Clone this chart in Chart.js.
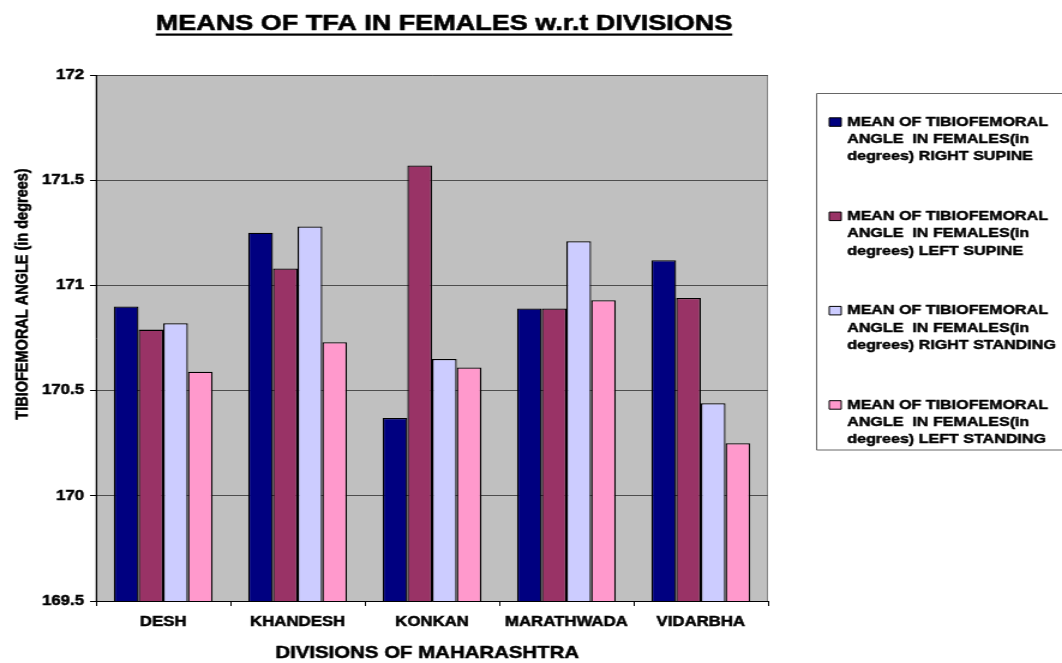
<!DOCTYPE html>
<html><head><meta charset="utf-8">
<script src="https://cdn.jsdelivr.net/npm/chart.js@4.4.1/dist/chart.umd.min.js"></script>
<style>
html,body{margin:0;padding:0;background:#fff;overflow:hidden;}
#wrap{width:885px;height:663px;transform:scale(1.2,1);transform-origin:0 0;}
canvas{display:block;}
</style></head><body>
<div id="wrap"><canvas id="c" width="885" height="663"></canvas></div>
<script>
const chartTitle = 'MEANS OF TFA IN FEMALES w.r.t DIVISIONS';
const xAxisTitle = 'DIVISIONS OF MAHARASHTRA';
const yAxisTitle = 'TIBIOFEMORAL ANGLE (in degrees)';
const divisions = ['DESH', 'KHANDESH', 'KONKAN', 'MARATHWADA', 'VIDARBHA'];
const rightSupine   = [170.90, 171.25, 170.37, 170.89, 171.12];
const leftSupine    = [170.79, 171.08, 171.57, 170.89, 170.94];
const rightStanding = [170.82, 171.28, 170.65, 171.21, 170.44];
const leftStanding  = [170.59, 170.73, 170.61, 170.93, 170.25];
const legendLines = [
  ['MEAN OF TIBIOFEMORAL', 'ANGLE  IN FEMALES(in', 'degrees) RIGHT SUPINE'],
  ['MEAN OF TIBIOFEMORAL', 'ANGLE  IN FEMALES(in', 'degrees) LEFT SUPINE'],
  ['MEAN OF TIBIOFEMORAL', 'ANGLE  IN FEMALES(in', 'degrees) RIGHT STANDING'],
  ['MEAN OF TIBIOFEMORAL', 'ANGLE  IN FEMALES(in', 'degrees) LEFT STANDING']
];
const seriesColors = ['#000080', '#993366', '#CCCCFF', '#FF99CC'];
const yMin = 169.5, yMax = 172, yStep = 0.5;

const FONT = '"Liberation Sans", Arial, Helvetica, sans-serif';

function heavyText(ctx, text, x, y, sw) {
  ctx.lineWidth = sw;
  ctx.strokeStyle = '#000';
  ctx.lineJoin = 'round';
  ctx.strokeText(text, x, y);
  ctx.fillText(text, x, y);
}

const bgPlugin = {
  id: 'bg',
  beforeDraw(chart) {
    const {ctx, chartArea: a} = chart;
    ctx.save();
    ctx.fillStyle = '#C0C0C0';
    ctx.fillRect(a.left, a.top, a.right - a.left, a.bottom - a.top);
    ctx.strokeStyle = '#808080';
    ctx.lineWidth = 1;
    ctx.strokeRect(a.left, a.top + 0.5, a.right - a.left - 0.5, a.bottom - a.top);
    ctx.restore();
  }
};

const textPlugin = {
  id: 'texts',
  afterDraw(chart) {
    const ctx = chart.ctx;
    const a = chart.chartArea;
    ctx.save();
    ctx.fillStyle = '#000';
    // main title with underline
    ctx.font = `bold 22.5px ${FONT}`;
    ctx.textAlign = 'center';
    ctx.textBaseline = 'alphabetic';
    const tx = 370, ty = 29.5;
    heavyText(ctx, chartTitle, tx, ty, 0.6);
    const w = ctx.measureText(chartTitle).width;
    ctx.fillRect(tx - w / 2, 33.5, w, 2.2);
    // x axis title
    ctx.font = `bold 17px ${FONT}`;
    ctx.textBaseline = 'middle';
    heavyText(ctx, xAxisTitle, (a.left + a.right) / 2 - 4, 653, 0.5);
    // y axis title
    ctx.save();
    ctx.translate(19, 294);
    ctx.rotate(-Math.PI / 2);
    ctx.font = `bold 14.5px ${FONT}`;
    ctx.textBaseline = 'middle';
    heavyText(ctx, yAxisTitle, 0, 0, 0.5);
    ctx.restore();
    // legend
    ctx.strokeStyle = '#666';
    ctx.lineWidth = 1;
    ctx.strokeRect(680.5, 93.5, 320, 356.5);
    ctx.font = `bold 13.4px ${FONT}`;
    ctx.textAlign = 'left';
    ctx.textBaseline = 'middle';
    chart.data.datasets.forEach((ds, i) => {
      const y0 = 122 + i * 94.3;
      ctx.fillStyle = ds.backgroundColor;
      ctx.fillRect(691, y0 - 4.2, 10, 8.5);
      ctx.strokeStyle = '#000';
      ctx.lineWidth = 1;
      ctx.strokeRect(691, y0 - 4.2, 10, 8.5);
      ctx.fillStyle = '#000';
      legendLines[i].forEach((line, j) => {
        heavyText(ctx, line, 706, y0 + j * 17.3, 0.45);
      });
    });
    ctx.restore();
  }
};

const seriesData = [rightSupine, leftSupine, rightStanding, leftStanding];

new Chart(document.getElementById('c'), {
  type: 'bar',
  data: {
    labels: divisions,
    datasets: seriesData.map((d, i) => ({
      label: legendLines[i].join(' '),
      data: d,
      backgroundColor: seriesColors[i],
      borderColor: '#000',
      borderWidth: 1.3,
      borderSkipped: 'start',
      categoryPercentage: 0.735,
      barPercentage: 1.0
    }))
  },
  options: {
    responsive: false,
    animation: false,
    devicePixelRatio: 1,
    layout: {padding: {top: 75, right: 245, left: 0, bottom: 0}},
    plugins: {
      legend: {display: false},
      title: {display: false},
      tooltip: {enabled: false}
    },
    scales: {
      x: {
        offset: true,
        grid: {display: true, drawOnChartArea: false, drawTicks: true, tickLength: 5, color: '#000', offset: true},
        border: {display: true, color: '#000', width: 1},
        ticks: {color: '#000', font: {family: FONT, size: 14, weight: 'bold'}, padding: 8, maxRotation: 0, autoSkip: false,
                textStrokeColor: '#000', textStrokeWidth: 0.5},
        title: {display: false, text: xAxisTitle},
        afterFit(scale) { scale.height = 62; }
      },
      y: {
        min: yMin, max: yMax,
        grid: {color: '#4d4d4d', lineWidth: 1, tickColor: '#000', tickLength: 5, drawTicks: true},
        border: {display: true, color: '#000', width: 1},
        ticks: {
          stepSize: yStep, color: '#000', padding: 5,
          font: {family: FONT, size: 14, weight: 'bold'},
          textStrokeColor: '#000', textStrokeWidth: 0.5,
          callback: (v) => String(Number(v))
        },
        afterFit(scale) { scale.width = 80; }
      }
    }
  },
  plugins: [bgPlugin, textPlugin]
});
</script>
</body></html>
